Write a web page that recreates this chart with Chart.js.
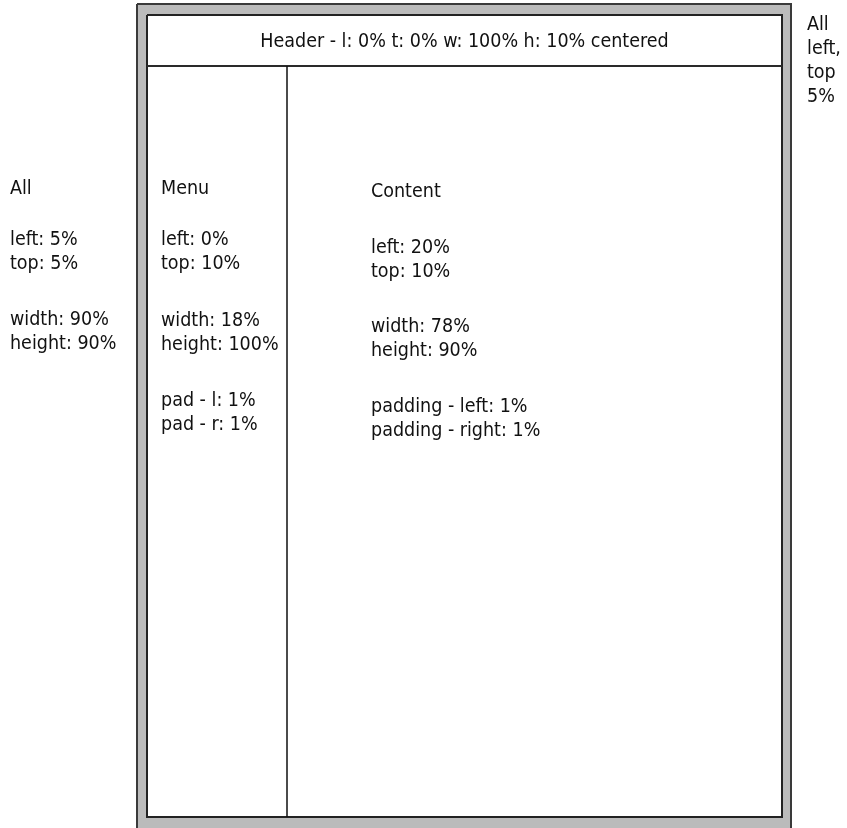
<!DOCTYPE html>
<html>
<head>
<meta charset="utf-8">
<script src="https://cdn.jsdelivr.net/npm/chart.js@4.4.1/dist/chart.umd.min.js"></script>
<style>
  html, body { margin: 0; padding: 0; background: #ffffff; }
  #wrap { width: 847px; height: 828px; }
</style>
</head>
<body>
<div id="wrap"><canvas id="c" width="847" height="828"></canvas></div>
<script>
// ---- data (diagram geometry in page pixels, and its texts) ----
const outerFrameX = [137, 791];
const outerFrameY = [4, 860];
const innerBoxX = [147, 782];
const innerBoxY = [15, 817];
const headerBottomY = [66];
const menuRightX = [287];

const headerText = ['Header - l: 0% t: 0% w: 100% h: 10% centered'];
const cornerNote = ['All', 'left,', 'top', '5%'];
const allNote = ['All', 'left: 5%', 'top: 5%', 'width: 90%', 'height: 90%'];
const menuNote = ['Menu', 'left: 0%', 'top: 10%', 'width: 18%', 'height: 100%', 'pad - l: 1%', 'pad - r: 1%'];
const contentNote = ['Content', 'left: 20%', 'top: 10%', 'width: 78%', 'height: 90%', 'padding - left: 1%', 'padding - right: 1%'];

function rect(xs, ys) {
  return [
    {x: xs[0], y: ys[0]}, {x: xs[1], y: ys[0]},
    {x: xs[1], y: ys[1]}, {x: xs[0], y: ys[1]},
    {x: xs[0], y: ys[0]}
  ];
}

const FONT = '"DejaVu Sans Condensed", "Liberation Sans Narrow", sans-serif';

const textPlugin = {
  id: 'diagramText',
  afterDatasetsDraw(chart) {
    const ctx = chart.ctx;
    const sx = chart.scales.x, sy = chart.scales.y;
    ctx.save();
    ctx.fillStyle = '#111111';
    ctx.font = '19.5px ' + FONT;
    ctx.textBaseline = 'middle';
    ctx.textAlign = 'center';
    ctx.fillText(headerText[0],
      sx.getPixelForValue((innerBoxX[0] + innerBoxX[1]) / 2),
      sy.getPixelForValue(42));
    ctx.textAlign = 'left';
    const groups = [
      {lines: cornerNote, x: 807, ys: [25, 49, 73, 97]},
      {lines: allNote, x: 10, ys: [189, 240, 264, 320, 344]},
      {lines: menuNote, x: 161, ys: [189, 240, 264, 321, 345, 401, 425]},
      {lines: contentNote, x: 371, ys: [192, 248, 272, 327, 351, 407, 431]}
    ];
    groups.forEach(g => {
      g.lines.forEach((t, i) => {
        ctx.fillText(t, sx.getPixelForValue(g.x), sy.getPixelForValue(g.ys[i]));
      });
    });
    ctx.restore();
  }
};

new Chart(document.getElementById('c'), {
  type: 'scatter',
  data: {
    datasets: [
      {
        label: 'frame',
        order: 4,
        data: rect(outerFrameX, outerFrameY),
        showLine: true,
        fill: 'shape',
        backgroundColor: '#bbbbbb',
        borderColor: '#3a3a3a',
        borderWidth: 2,
        pointRadius: 0,
        tension: 0
      },
      {
        label: 'box',
        order: 3,
        data: rect(innerBoxX, innerBoxY),
        showLine: true,
        fill: 'shape',
        backgroundColor: '#ffffff',
        borderColor: '#222222',
        borderWidth: 2,
        pointRadius: 0,
        tension: 0
      },
      {
        label: 'header',
        order: 2,
        data: [{x: innerBoxX[0], y: headerBottomY[0]}, {x: innerBoxX[1], y: headerBottomY[0]}],
        showLine: true,
        fill: false,
        borderColor: '#2a2a2a',
        borderWidth: 2,
        pointRadius: 0
      },
      {
        label: 'menu',
        order: 1,
        data: [{x: menuRightX[0], y: headerBottomY[0]}, {x: menuRightX[0], y: innerBoxY[1]}],
        showLine: true,
        fill: false,
        borderColor: '#111111',
        borderWidth: 1.5,
        pointRadius: 0
      }
    ]
  },
  options: {
    responsive: false,
    animation: false,
    devicePixelRatio: 1,
    layout: { padding: 0 },
    plugins: {
      legend: { display: false },
      tooltip: { enabled: false },
      title: { display: false },
      filler: { drawTime: 'beforeDatasetDraw' }
    },
    scales: {
      x: { type: 'linear', min: 0, max: 847, display: false },
      y: { type: 'linear', min: 0, max: 828, reverse: true, display: false }
    }
  },
  plugins: [textPlugin]
});
</script>
</body>
</html>
